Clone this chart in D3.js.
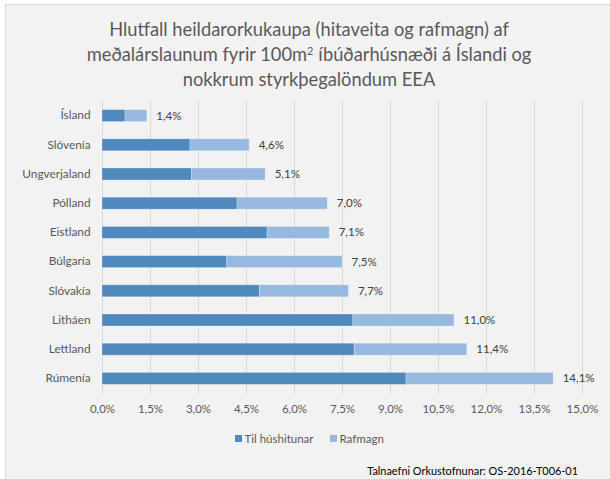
<!DOCTYPE html>
<html><head><meta charset="utf-8">
<script src="https://cdn.jsdelivr.net/npm/d3@7"></script>
<style>
html,body{margin:0;padding:0;background:#fff;}
svg{display:block;font-family:Lato,"Noto Sans",sans-serif;}
</style></head>
<body>
<svg id="c" width="610" height="479"></svg>
<script>
const categories = ["Ísland","Slóvenía","Ungverjaland","Pólland","Eistland","Búlgaría","Slóvakía","Litháen","Lettland","Rúmenía"];
const heating = [0.72, 2.75, 2.80, 4.22, 5.16, 3.90, 4.92, 7.84, 7.88, 9.50];
const electricity = [0.68, 1.85, 2.30, 2.82, 1.94, 3.60, 2.78, 3.16, 3.52, 4.60];
const totalLabels = ["1,4%","4,6%","5,1%","7,0%","7,1%","7,5%","7,7%","11,0%","11,4%","14,1%"];
const tickValues = [0,1.5,3,4.5,6,7.5,9,10.5,12,13.5,15];
const seriesNames = ["Til húshitunar","Rafmagn"];
const titleLines = ["Hlutfall heildarorkukaupa (hitaveita og rafmagn) af","meðalárslaunum fyrir 100m","íbúðarhúsnæði á Íslandi og","nokkrum styrkþegalöndum EEA"];
const source = "Talnaefni Orkustofnunar: OS-2016-T006-01";

const colors = ["#4f89be","#97b9e0"];
const svg = d3.select("#c");

svg.append("rect").attr("x",5.5).attr("y",4.5).attr("width",640).attr("height",500)
  .attr("fill","#f2f2f2").attr("stroke","#d9d9d9");

// title
const t = svg.append("text").attr("text-anchor","middle").attr("fill","#595959").attr("font-size",18.3);
t.append("tspan").attr("x",309).attr("y",36).text(titleLines[0]);
const l2 = t.append("tspan").attr("x",309).attr("y",61);
l2.append("tspan").text(titleLines[1]);
l2.append("tspan").attr("dy",-6).attr("font-size",11).text("2");
l2.append("tspan").attr("dy",6).text(" " + titleLines[2]);
t.append("tspan").attr("x",309).attr("y",86).text(titleLines[3]);

const x = d3.scaleLinear().domain([0,15]).range([102,582]);
const y = d3.scaleBand().domain(categories).range([101,393]).paddingInner(0.59).paddingOuter(0.295);

// gridlines
svg.append("g").selectAll("line").data(tickValues).join("line")
  .attr("x1",d=>x(d)).attr("x2",d=>x(d)).attr("y1",101).attr("y2",393.5)
  .attr("stroke","#d9d9d9").attr("stroke-width",1).attr("shape-rendering","crispEdges");

// x axis labels
const xAxis = d3.axisBottom(x).tickValues(tickValues).tickSize(0).tickPadding(0)
  .tickFormat(d=>d3.format(".1f")(d).replace(".",",")+"%");
const gx = svg.append("g").attr("transform","translate(0,405)").call(xAxis);
gx.select(".domain").remove();
gx.selectAll("text").attr("fill","#595959").attr("font-size",11.5).attr("font-family","Lato,sans-serif");

// y axis labels
const yAxis = d3.axisLeft(y).tickSize(0).tickPadding(0);
const gy = svg.append("g").attr("transform","translate(90.5,0)").call(yAxis);
gy.select(".domain").remove();
gy.selectAll("text").attr("fill","#595959").attr("font-size",11.8).attr("font-family","Lato,sans-serif");

// bars
const stackData = categories.map((c,i)=>({cat:c, h:heating[i], e:electricity[i]}));
const stack = d3.stack().keys(["h","e"])(stackData);
svg.append("g").selectAll("g").data(stack).join("g").attr("fill",(d,i)=>colors[i])
  .selectAll("rect").data(d=>d).join("rect")
  .attr("x",d=>x(d[0])).attr("width",d=>x(d[1])-x(d[0]))
  .attr("y",d=>y(d.data.cat)).attr("height",y.bandwidth())
  .attr("stroke","#ffffff").attr("stroke-opacity",0.35).attr("stroke-width",0.75);

// data labels
svg.append("g").selectAll("text").data(stackData).join("text")
  .attr("x",(d)=>x(d.h+d.e)+9.5).attr("y",d=>y(d.cat)+y.bandwidth()/2)
  .attr("dy","0.35em").attr("fill","#404040").attr("font-size",11.5)
  .text((d,i)=>totalLabels[i]);

// legend
const lg = svg.append("g").attr("font-size",11.5).attr("fill","#595959");
const lx = [235,330];
seriesNames.forEach((n,i)=>{
  lg.append("rect").attr("x",lx[i]).attr("y",435).attr("width",7).attr("height",7).attr("fill",colors[i]);
  lg.append("text").attr("x",lx[i]+9.5).attr("y",438.5).attr("dy","0.35em").attr("fill","#595959").text(n);
});

// source
svg.append("text").attr("x",578).attr("y",475).attr("text-anchor","end")
  .attr("font-size",10.9).attr("fill","#000").text(source);
</script>
</body></html>
